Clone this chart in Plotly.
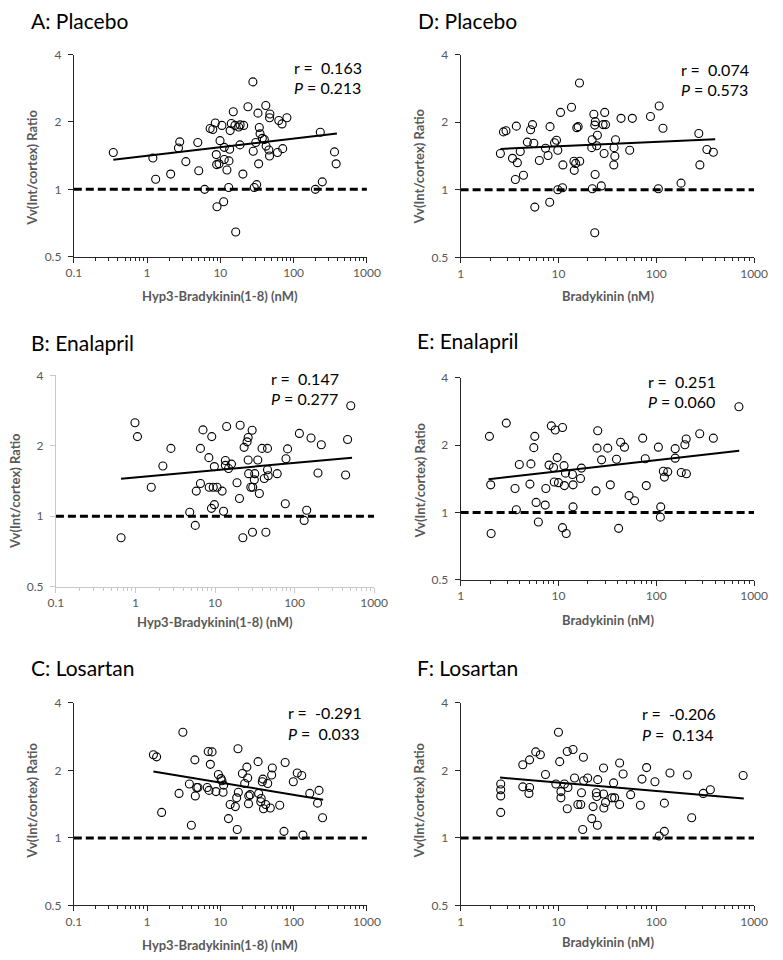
import plotly.graph_objects as go
import math

# ---------------- data ----------------
a_x = [0.346, 1.20, 1.31, 2.10, 2.68, 2.79, 3.38, 4.92, 5.07, 6.10, 7.25, 7.88, 8.53, 8.8, 9.0, 8.9,
       9.6, 9.9, 10.5, 11.1, 11.3, 11.3, 12.3, 13.0, 13.1, 13.4, 13.6, 14.1, 15.0, 15.8, 16.2, 17.8,
       18.5, 20.3, 18.6, 20.8, 23.8, 27.8, 28.1, 29.0, 30.4, 31.3, 32.6, 33.3, 34.0, 34.8, 37.4, 39.8,
       41.7, 42.1, 45.9, 46.9, 47.4, 46.9, 60.2, 62.7, 69.5, 70.9, 80.9, 198, 231, 246, 361, 380]
a_y = [1.46, 1.38, 1.11, 1.17, 1.53, 1.63, 1.33, 1.62, 1.21, 1.00, 1.87, 1.85, 1.98, 1.43, 0.836, 1.29,
       1.30, 1.65, 1.93, 0.88, 1.54, 1.36, 1.22, 1.02, 1.34, 1.51, 1.83, 1.97, 2.22, 1.93, 0.645, 1.90,
       1.58, 1.17, 1.94, 1.93, 2.34, 3.02, 1.48, 1.02, 1.62, 1.05, 2.19, 1.30, 1.89, 1.77, 1.69, 1.67,
       2.37, 1.56, 1.50, 1.41, 2.17, 2.09, 1.46, 2.03, 1.96, 1.52, 2.09, 1.00, 1.80, 1.08, 1.47, 1.30]
a_fit_x = [0.346, 390]
a_fit_y = [1.355, 1.776]

b_x = [0.659, 0.986, 1.06, 1.58, 2.21, 2.79, 4.81, 5.65, 5.81, 6.56, 6.56, 7.06, 8.37, 8.45, 9.02, 9.1,
       9.5, 9.81, 9.81, 10.6, 12.3, 12.8, 13.5, 13.5, 14.0, 14.8, 16.1, 18.9, 20.3, 20.7, 22.4, 23.2,
       25.3, 26.1, 26.1, 26.5, 28.2, 29.3, 29.6, 29.8, 31.2, 31.6, 34.5, 36.1, 39.0, 41.6, 43.6, 45.7,
       45.7, 46.6, 60.5, 76.5, 78.0, 81.7, 115, 132, 142, 161, 197, 217, 438, 464, 509]
b_y = [0.808, 2.51, 2.19, 1.33, 1.64, 1.95, 1.04, 0.913, 1.28, 1.95, 1.38, 2.34, 1.78, 1.33, 1.08, 2.19,
       1.33, 1.12, 1.63, 1.33, 1.28, 1.05, 1.73, 1.65, 2.42, 1.60, 1.67, 1.39, 1.19, 2.45, 0.808, 1.97,
       2.08, 2.17, 1.74, 1.52, 1.33, 2.33, 0.853, 1.33, 1.43, 1.52, 1.74, 1.25, 1.95, 1.45, 0.853, 1.95,
       1.58, 1.49, 1.52, 1.13, 1.76, 1.94, 2.26, 0.959, 1.06, 2.16, 1.53, 2.02, 1.50, 2.13, 2.97]
b_fit_x = [0.659, 528]
b_fit_y = [1.446, 1.78]

c_x = [1.22, 1.35, 1.58, 2.73, 3.08, 3.78, 4.02, 4.49, 4.55, 4.75, 4.94, 6.62, 6.83, 7.0, 7.3, 7.7,
       8.71, 9.4, 10.2, 10.5, 11.1, 10.9, 12.9, 13.6, 16.0, 16.7, 17.0, 17.4, 17.6, 20.0, 21.5, 23.0,
       23.6, 24.2, 24.4, 25.5, 32.7, 33.3, 35.6, 36.1, 37.3, 38.1, 38.8, 41.5, 44.3, 51.2, 50.1, 48.0,
       64.6, 73.8, 76.6, 99, 112, 129, 134, 166, 212, 222, 248]
c_y = [2.35, 2.30, 1.30, 1.58, 2.96, 1.74, 1.14, 2.23, 1.54, 1.68, 1.68, 1.68, 2.43, 1.63, 2.13, 2.42,
       1.61, 1.92, 1.84, 1.80, 1.72, 1.60, 1.22, 1.41, 1.38, 1.51, 1.09, 2.50, 1.60, 1.94, 1.75, 2.07,
       1.85, 1.42, 1.54, 1.56, 2.19, 1.58, 1.45, 1.50, 1.78, 1.83, 1.35, 1.41, 1.75, 2.05, 1.91, 1.36,
       1.40, 1.07, 2.17, 1.78, 1.95, 1.90, 1.03, 1.58, 1.43, 1.63, 1.23]
c_fit_x = [1.22, 253]
c_fit_y = [1.98, 1.48]

d_x = [2.55, 2.74, 2.91, 3.39, 3.63, 3.71, 3.80, 4.07, 4.39, 4.81, 5.19, 5.43, 5.60, 5.73, 6.38, 7.37,
       7.83, 8.14, 8.20, 9.12, 9.55, 9.85, 9.85, 10.5, 11.0, 11.1, 13.6, 14.4, 14.5, 15.0, 15.4, 15.9,
       16.5, 16.4, 21.9, 22.1, 22.2, 23.0, 23.5, 23.7, 23.5, 23.8, 24.6, 25.0, 27.4, 28.6, 29.3, 29.7,
       30.3, 36.8, 37.0, 37.7, 38.3, 43.6, 53.5, 56.9, 87.2, 105, 107, 117, 179, 272, 279, 329, 383]
d_y = [1.45, 1.81, 1.83, 1.38, 1.11, 1.92, 1.32, 1.48, 1.16, 1.63, 1.85, 1.95, 1.61, 0.837, 1.35, 1.53,
       1.42, 0.880, 1.91, 1.62, 1.66, 1.50, 1.00, 2.21, 1.02, 1.29, 2.33, 1.34, 1.22, 1.31, 1.89, 1.91,
       1.34, 2.99, 1.54, 1.67, 1.01, 2.17, 1.94, 1.17, 0.643, 2.01, 1.57, 1.75, 1.04, 1.95, 1.45, 2.21,
       1.95, 1.29, 1.54, 1.41, 1.67, 2.08, 1.50, 2.08, 2.12, 1.01, 2.36, 1.88, 1.07, 1.78, 1.29, 1.51, 1.47]
d_fit_x = [2.55, 400]
d_fit_y = [1.52, 1.68]

e_x = [1.97, 2.03, 2.05, 2.93, 3.60, 3.71, 3.98, 5.11, 5.23, 5.60, 5.73, 5.91, 6.23, 7.32, 7.43, 8.02,
       8.45, 8.91, 9.06, 9.27, 9.70, 10.0, 11.0, 11.0, 11.4, 11.5, 11.8, 12.0, 13.9, 14.1, 14.1, 16.8,
       17.2, 24.2, 24.8, 25.2, 27.6, 31.9, 33.9, 39.2, 41.2, 43.2, 47.3, 52.7, 60.0, 72.6, 77.2, 79.0,
       105, 110, 111, 118, 121, 131, 156, 156, 180, 196, 202, 203, 278, 383, 699]
e_y = [2.19, 1.33, 0.806, 2.51, 1.28, 1.03, 1.64, 1.34, 1.65, 1.95, 2.19, 1.11, 0.907, 1.08, 1.28, 1.63,
       2.44, 1.59, 1.37, 2.34, 1.76, 1.36, 2.40, 0.856, 1.62, 1.32, 1.50, 0.806, 1.48, 1.06, 1.33, 1.42,
       1.58, 1.25, 1.94, 2.32, 1.72, 1.94, 1.33, 1.73, 0.85, 2.06, 1.96, 1.19, 1.13, 2.15, 1.74, 1.32,
       1.96, 0.954, 1.06, 1.53, 1.44, 1.52, 1.75, 1.93, 1.51, 2.01, 2.13, 1.49, 2.25, 2.15, 2.97]
e_fit_x = [1.93, 704]
e_fit_y = [1.41, 1.89]

f_x = [2.57, 2.57, 2.57, 2.57, 4.32, 4.32, 5.07, 5.07, 4.99, 5.86, 6.53, 7.37, 9.41, 10.0, 10.3, 10.6,
       10.6, 11.5, 12.3, 12.3, 12.5, 14.1, 14.6, 15.8, 16.9, 17.2, 17.7, 18.0, 18.1, 19.9, 21.9, 22.6,
       24.4, 24.6, 25.0, 25.2, 28.9, 28.9, 29.1, 30.3, 35.2, 36.6, 37.5, 42.2, 42.2, 45.8, 54.7, 68.8,
       71.4, 79.6, 96.9, 107, 121, 121, 138, 230, 208, 302, 357, 772]
f_y = [1.74, 1.64, 1.54, 1.30, 2.12, 1.69, 2.23, 1.68, 1.58, 2.42, 2.35, 1.92, 1.74, 2.96, 2.19, 1.61,
       1.51, 1.74, 1.35, 2.43, 1.68, 2.48, 1.85, 1.41, 1.41, 1.59, 1.09, 2.29, 1.80, 1.85, 1.22, 1.38,
       1.59, 1.53, 1.14, 1.82, 2.05, 1.57, 1.36, 1.44, 1.51, 1.76, 1.51, 2.16, 1.41, 1.93, 1.56, 1.40,
       1.83, 2.06, 1.78, 1.02, 1.07, 1.43, 1.95, 1.23, 1.91, 1.58, 1.64, 1.90]
f_fit_x = [2.53, 784]
f_fit_y = [1.86, 1.50]

titles = ["A: Placebo", "B: Enalapril", "C: Losartan", "D: Placebo", "E: Enalapril", "F: Losartan"]
r_text = ["r =\u00a0 0.163", "r =\u00a0 0.147", "r =\u00a0 -0.291", "r =\u00a0 0.074", "r =\u00a0 0.251", "r =\u00a0 -0.206"]
p_text = ["<i>P</i> = 0.213", "<i>P</i> = 0.277", "<i>P</i> =\u00a0 0.033", "<i>P</i> = 0.573", "<i>P</i> = 0.060", "<i>P</i> =\u00a0 0.134"]
x_titles = ["Hyp3-Bradykinin(1-8) (nM)"] * 3 + ["Bradykinin (nM)"] * 3
y_title = "Vv(Int/cortex) Ratio"
x_ticks_hyp = [0.1, 1, 10, 100, 1000]
x_ticks_bk = [1, 10, 100, 1000]
y_ticks = [0.5, 1, 2, 4]
ref_ratio = 1

# ---------------- layout (pixel geometry) ----------------
W, H = 783, 960
FONT = "Lato"
GREY = "#595959"

panels = [
    dict(x=a_x, y=a_y, fx=a_fit_x, fy=a_fit_y, box=(67.7, 369.3, 47.3, 252.7), tpos=(22, 13), rpos=(292, 60),
         ypos=(25, 162), xpos=(218, 293), axc="#262626", xt=x_ticks_hyp),
    dict(x=b_x, y=b_y, fx=b_fit_x, fy=b_fit_y, box=(49.3, 376.7, 373.3, 587.7), tpos=(22, 340), rpos=(269, 376),
         ypos=(8, 491), xpos=(213, 624), axc="#c8c8c8", xt=x_ticks_hyp),
    dict(x=c_x, y=c_y, fx=c_fit_x, fy=c_fit_y, box=(67.7, 369.3, 706, 911.7), tpos=(22, 670), rpos=(286, 716),
         ypos=(25, 805), xpos=(218, 952), axc="#262626", xt=x_ticks_hyp),
    dict(x=d_x, y=d_y, fx=d_fit_x, fy=d_fit_y, box=(465.7, 767.7, 47.3, 253.3), tpos=(420, 13), rpos=(690, 62),
         ypos=(423, 161), xpos=(617, 293), axc="#262626", xt=x_ticks_bk),
    dict(x=e_x, y=e_y, fx=e_fit_x, fy=e_fit_y, box=(465.7, 767.7, 375.7, 581), tpos=(419, 338), rpos=(656, 379),
         ypos=(423, 480), xpos=(617, 622), axc="#262626", xt=x_ticks_bk),
    dict(x=f_x, y=f_y, fx=f_fit_x, fy=f_fit_y, box=(465.7, 767.7, 706, 911.7), tpos=(419, 670), rpos=(650, 717),
         ypos=(423, 805), xpos=(617, 949), axc="#262626", xt=x_ticks_bk),
]

fig = go.Figure()
annotations = []
for i, p in enumerate(panels):
    n = "" if i == 0 else str(i + 1)
    xa, ya = "x" + n, "y" + n
    left, right, top, bottom = p["box"]
    xt = p["xt"]
    minor_vals = [k * 10 ** e for e in range(int(round(math.log10(xt[0]))), int(round(math.log10(xt[-1]))))
                  for k in range(2, 10)]
    axis_common = dict(showgrid=False, zeroline=False, showline=True, linecolor=p["axc"], linewidth=1,
                       ticks="outside", tickcolor=p["axc"], tickwidth=1,
                       tickfont=dict(family=FONT, size=12, color=GREY))
    fig.layout["xaxis" + n] = dict(
        axis_common, type="log", domain=[left / W, right / W], anchor=ya,
        range=[math.log10(xt[0]), math.log10(xt[-1])], tickvals=xt, ticktext=[f"{v:g}" for v in xt],
        ticklen=5,
        minor=dict(tickvals=minor_vals, ticks="outside", ticklen=3, tickcolor=p["axc"], tickwidth=1, showgrid=False))
    fig.layout["yaxis" + n] = dict(
        axis_common, type="log", domain=[1 - bottom / H, 1 - top / H], anchor=xa,
        range=[math.log10(y_ticks[0]), math.log10(y_ticks[-1])], tickvals=y_ticks,
        ticktext=[f"{v:g}" for v in y_ticks], ticklen=5, ticklabelstandoff=4)

    fig.add_trace(go.Scatter(x=[xt[0], xt[-1]], y=[ref_ratio, ref_ratio], mode="lines", xaxis=xa, yaxis=ya,
                             line=dict(color="black", width=3, dash="8px,4px"), hoverinfo="skip", showlegend=False))
    fig.add_trace(go.Scatter(x=p["fx"], y=p["fy"], mode="lines", xaxis=xa, yaxis=ya,
                             line=dict(color="black", width=2), showlegend=False))
    fig.add_trace(go.Scatter(x=p["x"], y=p["y"], mode="markers", xaxis=xa, yaxis=ya,
                             marker=dict(symbol="circle-open", size=8, color="black", line=dict(width=1.1)),
                             showlegend=False))

    annotations.append(dict(text=titles[i], x=p["tpos"][0] / W, y=1 - p["tpos"][1] / H, xref="paper", yref="paper",
                            xanchor="left", yanchor="middle", showarrow=False,
                            font=dict(family=FONT, size=21, color="black")))
    annotations.append(dict(text=r_text[i], x=p["rpos"][0] / W, y=1 - p["rpos"][1] / H, xref="paper", yref="paper",
                            xanchor="left", yanchor="middle", showarrow=False,
                            font=dict(family=FONT, size=16, color="black")))
    annotations.append(dict(text=p_text[i], x=p["rpos"][0] / W, y=1 - (p["rpos"][1] + 21) / H, xref="paper",
                            yref="paper", xanchor="left", yanchor="middle", showarrow=False,
                            font=dict(family=FONT, size=16, color="black")))
    annotations.append(dict(text="<b>" + y_title + "</b>", x=p["ypos"][0] / W, y=1 - p["ypos"][1] / H,
                            xref="paper", yref="paper", xanchor="center", yanchor="middle", textangle=-90,
                            showarrow=False, font=dict(family=FONT, size=13, color=GREY)))
    annotations.append(dict(text="<b>" + x_titles[i] + "</b>", x=p["xpos"][0] / W, y=1 - p["xpos"][1] / H,
                            xref="paper", yref="paper", xanchor="center", yanchor="middle",
                            showarrow=False, font=dict(family=FONT, size=13, color=GREY)))

fig.update_layout(width=W, height=H, margin=dict(l=0, r=0, t=0, b=0), paper_bgcolor="white",
                  plot_bgcolor="white", annotations=annotations, showlegend=False)
fig.write_html("out.html", config={"displayModeBar": False},
               post_script="document.body.style.margin='0';")
